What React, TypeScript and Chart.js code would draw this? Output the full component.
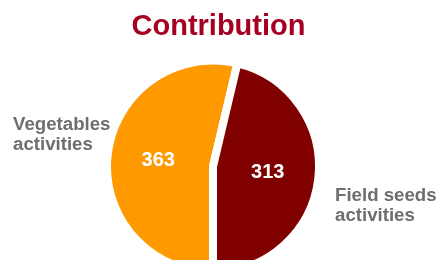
import { useEffect, useRef } from "react";
import { Chart, registerables } from "chart.js";

Chart.register(...registerables);

const titleText = "Contribution";
const categories = [
  ["Vegetables", "activities"],
  ["Field seeds", "activities"],
];
const values = [363, 313];
const colors = ["#FF9900", "#800000"];

const FONT = "'Liberation Sans', Arial, sans-serif";

export default function App() {
  const ref = useRef<HTMLCanvasElement>(null);

  useEffect(() => {
    document.body.style.margin = "0";
    const canvas = ref.current;
    if (!canvas) return;

    const labelPlugin = {
      id: "pieLabels",
      afterDatasetsDraw(chart: any, _args: any, opts: any) {
        const ctx = chart.ctx as CanvasRenderingContext2D;
        const meta = chart.getDatasetMeta(0);
        ctx.save();
        // title
        ctx.fillStyle = opts.titleColor;
        ctx.font = `bold ${opts.titleSize}px ${FONT}`;
        ctx.textAlign = "center";
        ctx.textBaseline = "alphabetic";
        ctx.fillText(titleText, opts.titleX, opts.titleY);

        meta.data.forEach((arc: any, i: number) => {
          const p = arc.getProps(["x", "y", "startAngle", "endAngle", "outerRadius"], true);
          const mid = (p.startAngle + p.endAngle) / 2;
          const r = p.outerRadius * opts.valueRadius;
          ctx.fillStyle = "#ffffff";
          ctx.font = `bold ${opts.valueSize}px ${FONT}`;
          ctx.textAlign = "center";
          ctx.textBaseline = "middle";
          ctx.fillText(String(values[i]), p.x + Math.cos(mid) * r, p.y + Math.sin(mid) * r);

          const a = opts.anchors[i];
          ctx.fillStyle = opts.labelColor;
          ctx.font = `bold ${opts.labelSize}px ${FONT}`;
          ctx.textAlign = "left";
          ctx.textBaseline = "alphabetic";
          categories[i].forEach((line, j) => {
            ctx.fillText(line, p.x + a.dx, p.y + a.dy + j * opts.lineHeight);
          });
        });
        ctx.restore();
      },
    };

    const chart = new Chart(canvas, {
      type: "pie",
      data: {
        labels: categories.map((c) => c.join(" ")),
        datasets: [
          {
            data: values,
            backgroundColor: colors,
            borderColor: "#ffffff",
            borderWidth: 8,
          },
        ],
      },
      options: {
        responsive: false,
        animation: false,
        devicePixelRatio: 1,
        events: [],
        rotation: 180,
        radius: 106,
        layout: { padding: { left: 0, right: 15, top: 0, bottom: 0 } },
        plugins: {
          legend: { display: false },
          tooltip: { enabled: false },
          title: { display: false },
          pieLabels: {
            titleColor: "#A50021",
            titleSize: 29,
            titleX: 218.5,
            titleY: 34.5,
            valueSize: 20,
            valueRadius: 0.52,
            labelColor: "#6e6e6e",
            labelSize: 18.67,
            lineHeight: 20,
            anchors: [
              { dx: -200, dy: -36.5 },
              { dx: 122, dy: 34 },
            ],
          },
        } as any,
      },
      plugins: [labelPlugin],
    });

    return () => chart.destroy();
  }, []);

  return (
    <div style={{ width: 441, height: 260, overflow: "hidden", position: "relative", background: "#fff" }}>
      <canvas ref={ref} width={441} height={333} style={{ display: "block" }} />
    </div>
  );
}
